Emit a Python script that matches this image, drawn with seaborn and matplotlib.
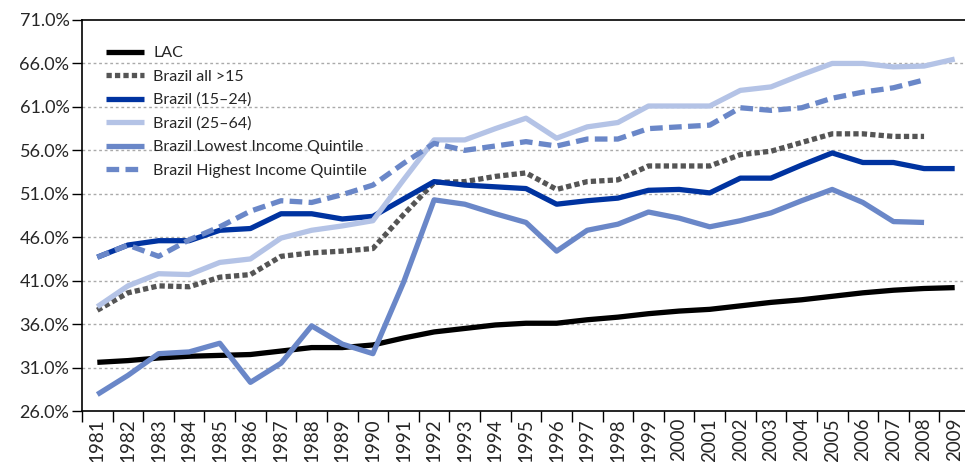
import numpy as np
import pandas as pd
import matplotlib
matplotlib.use("Agg")
import matplotlib.pyplot as plt
import seaborn as sns
from matplotlib.ticker import FixedLocator, FuncFormatter

# Data (share in %)
years = list(range(1981, 2010))

lac = [31.6, 31.8, 32.1, 32.3, 32.4, 32.5, 32.9, 33.3, 33.3, 33.6,
       34.4, 35.1, 35.5, 35.9, 36.1, 36.1, 36.5, 36.8, 37.2, 37.5,
       37.7, 38.1, 38.5, 38.8, 39.2, 39.6, 39.9, 40.1, 40.2]
brazil_all = [37.6, 39.6, 40.4, 40.3, 41.4, 41.7, 43.8, 44.2, 44.4, 44.7,
              48.6, 52.3, 52.4, 53.0, 53.4, 51.5, 52.4, 52.6, 54.2, 54.2,
              54.2, 55.5, 55.9, 56.9, 57.9, 57.9, 57.6, 57.6]
brazil_15_24 = [43.7, 45.1, 45.6, 45.6, 46.8, 47.0, 48.7, 48.7, 48.1, 48.4,
                50.4, 52.4, 52.0, 51.8, 51.6, 49.8, 50.2, 50.5, 51.4, 51.5,
                51.1, 52.8, 52.8, 54.3, 55.7, 54.6, 54.6, 53.9, 53.9]
brazil_25_64 = [38.0, 40.4, 41.8, 41.7, 43.1, 43.5, 45.9, 46.8, 47.3, 47.9,
                52.6, 57.2, 57.2, 58.5, 59.7, 57.4, 58.7, 59.2, 61.1, 61.1,
                61.1, 62.9, 63.3, 64.7, 66.0, 66.0, 65.6, 65.7, 66.5]
lowest_q = [27.9, 30.1, 32.6, 32.8, 33.8, 29.3, 31.5, 35.8, 33.7, 32.6,
            40.8, 50.3, 49.8, 48.7, 47.7, 44.4, 46.8, 47.5, 48.9, 48.2,
            47.2, 47.9, 48.8, 50.2, 51.5, 50.0, 47.8, 47.7]
highest_q = [43.7, 45.1, 43.8, 45.7, 47.2, 49.0, 50.2, 50.0, 50.9, 52.0,
             54.5, 56.8, 56.0, 56.5, 57.0, 56.5, 57.3, 57.3, 58.5, 58.7,
             58.9, 60.9, 60.6, 60.9, 62.0, 62.7, 63.2, 64.1]

series = [
    ("LAC", lac, "#000000", None),
    ("Brazil all >15", brazil_all, "#555555", (1.0, 0.6)),
    ("Brazil (15\u201324)", brazil_15_24, "#0033A0", None),
    ("Brazil (25\u201364)", brazil_25_64, "#B4C3E6", None),
    ("Brazil Lowest Income Quintile", lowest_q, "#6A87C8", None),
    ("Brazil Highest Income Quintile", highest_q, "#6A87C8", (2.4, 1.2)),
]

sns.set_style("white")
plt.rcParams["font.family"] = ["Lato", "DejaVu Sans"]

fig = plt.figure(figsize=(9.65, 4.62), dpi=100)
ax = fig.add_axes([82 / 965, 1 - 411 / 462, (970 - 82) / 965, (411 - 20) / 462])

for name, vals, color, dash in series:
    df = pd.DataFrame({"x": np.arange(len(vals)), "y": vals})
    sns.lineplot(data=df, x="x", y="y", ax=ax, color=color, lw=3.8, label=name)
    ln = ax.lines[-1]
    ln.set_solid_capstyle("butt")
    if dash is not None:
        ln.set_dashes(dash)
        ln.set_dash_capstyle("butt")

ax.set_xlim(-0.5, len(years) - 0.5)
ax.set_ylim(26, 71)
ax.set_xlabel("")
ax.set_ylabel("")

# y axis
yt = np.arange(26, 72, 5)
ax.set_yticks(yt)
ax.yaxis.set_major_formatter(FuncFormatter(lambda v, p: f"{v:.1f}%"))
ax.tick_params(axis="y", length=7, width=1, direction="out", color="black",
               labelsize=13, pad=2, left=True)
for v in yt[1:-1]:
    ax.axhline(v, color="#aaaaaa", lw=1, ls=(0, (2, 2)), zorder=0)

# x axis: labels centred, ticks on category boundaries
ax.set_xticks(np.arange(len(years)))
ax.set_xticklabels([str(y) for y in years], rotation=90, fontsize=13.5)
ax.tick_params(axis="x", which="major", length=0, pad=5)
ax.xaxis.set_minor_locator(FixedLocator(np.arange(-0.5, len(years), 1)))
ax.tick_params(axis="x", which="minor", length=8, width=1, color="black",
               direction="out", bottom=True)

for s in ["left", "bottom", "top"]:
    ax.spines[s].set_visible(True)
    ax.spines[s].set_color("black")
    ax.spines[s].set_linewidth(1.2)
ax.spines["right"].set_visible(False)

leg = ax.legend(loc="upper left", bbox_to_anchor=(0.02, 0.95), frameon=False,
                fontsize=11.5, handlelength=2.4, handletextpad=0.55,
                labelspacing=0.58, borderaxespad=0)
for h in leg.get_lines():
    h.set_linewidth(3.8)

fig.savefig("out.png", dpi=100)
